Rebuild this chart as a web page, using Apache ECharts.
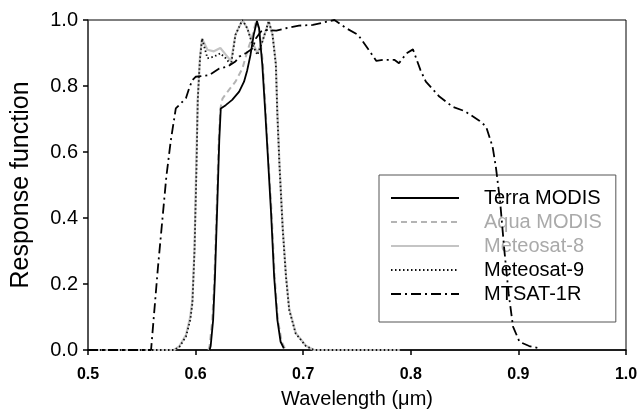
<!DOCTYPE html>
<html>
<head>
<meta charset="utf-8">
<script src="https://cdn.jsdelivr.net/npm/echarts@6/dist/echarts.min.js"></script>
<style>html,body{margin:0;padding:0;background:#fff}#c{width:641px;height:410px}</style>
</head>
<body>
<div id="c"></div>
<script>
var xTicks = [0.5, 0.6, 0.7, 0.8, 0.9, 1.0];
var yTicks = [0.0, 0.2, 0.4, 0.6, 0.8, 1.0];
var seriesNames = ['Terra MODIS', 'Aqua MODIS', 'Meteosat-8', 'Meteosat-9', 'MTSAT-1R'];

var terraWl   = [0.613, 0.614, 0.6163, 0.618, 0.6203, 0.622, 0.6234, 0.628, 0.634, 0.6405, 0.645, 0.648, 0.651, 0.654, 0.657, 0.659, 0.662, 0.6647, 0.6668, 0.670, 0.673, 0.676, 0.679, 0.682];
var terraResp = [0.0, 0.012, 0.091, 0.222, 0.455, 0.636, 0.732, 0.742, 0.758, 0.783, 0.813, 0.848, 0.894, 0.955, 0.997, 0.975, 0.864, 0.722, 0.606, 0.424, 0.222, 0.091, 0.025, 0.005];

var aquaWl   = [0.612, 0.613, 0.6155, 0.6175, 0.6198, 0.6215, 0.623, 0.625, 0.631, 0.637, 0.6435, 0.648, 0.653, 0.656, 0.659, 0.6625, 0.665, 0.667, 0.6705, 0.6735, 0.6765, 0.680, 0.683];
var aquaResp = [0.0, 0.012, 0.09, 0.222, 0.455, 0.636, 0.73, 0.762, 0.788, 0.813, 0.853, 0.904, 0.955, 0.995, 0.975, 0.87, 0.73, 0.61, 0.424, 0.222, 0.091, 0.025, 0.005];

var met8Wl   = [0.5, 0.58, 0.585, 0.591, 0.595, 0.597, 0.599, 0.6005, 0.602, 0.604, 0.606, 0.608, 0.611, 0.617, 0.623, 0.628, 0.633, 0.637, 0.6435, 0.648, 0.653, 0.6575, 0.662, 0.668, 0.6715, 0.6746, 0.676, 0.678, 0.681, 0.684, 0.687, 0.693, 0.7025, 0.71, 0.79];
var met8Resp = [0.0, 0.0, 0.012, 0.045, 0.10, 0.15, 0.31, 0.545, 0.76, 0.885, 0.944, 0.93, 0.91, 0.905, 0.915, 0.895, 0.875, 0.955, 1.0, 0.975, 0.93, 0.90, 0.935, 0.995, 0.955, 0.87, 0.72, 0.56, 0.37, 0.225, 0.125, 0.052, 0.013, 0.0, 0.0];

var met9Wl   = [0.5, 0.58, 0.585, 0.591, 0.595, 0.597, 0.599, 0.6008, 0.602, 0.604, 0.606, 0.608, 0.611, 0.617, 0.623, 0.628, 0.633, 0.637, 0.6435, 0.648, 0.653, 0.6575, 0.662, 0.668, 0.6715, 0.6746, 0.676, 0.678, 0.681, 0.684, 0.687, 0.693, 0.7025, 0.71, 0.79];
var met9Resp = [0.0, 0.0, 0.01, 0.04, 0.09, 0.14, 0.30, 0.545, 0.758, 0.879, 0.944, 0.92, 0.884, 0.889, 0.899, 0.884, 0.864, 0.955, 1.0, 0.975, 0.924, 0.894, 0.934, 0.997, 0.955, 0.864, 0.712, 0.556, 0.364, 0.222, 0.121, 0.05, 0.012, 0.0, 0.0];

var mtsatWl   = [0.5, 0.5586, 0.565, 0.5728, 0.577, 0.5816, 0.591, 0.594, 0.597, 0.600, 0.6126, 0.622, 0.630, 0.637, 0.6405, 0.647, 0.653, 0.656, 0.6607, 0.665, 0.675, 0.684, 0.696, 0.709, 0.729, 0.740, 0.751, 0.761, 0.768, 0.774, 0.785, 0.789, 0.796, 0.802, 0.809, 0.814, 0.8265, 0.839, 0.850, 0.8637, 0.870, 0.876, 0.879, 0.883, 0.887, 0.891, 0.895, 0.901, 0.910, 0.9195];
var mtsatResp = [0.0, 0.0, 0.25, 0.525, 0.636, 0.732, 0.763, 0.793, 0.818, 0.828, 0.833, 0.853, 0.859, 0.874, 0.889, 0.90, 0.914, 0.944, 0.965, 0.970, 0.968, 0.975, 0.983, 0.985, 1.0, 0.975, 0.955, 0.909, 0.876, 0.879, 0.879, 0.869, 0.899, 0.911, 0.848, 0.813, 0.768, 0.737, 0.724, 0.695, 0.677, 0.616, 0.556, 0.45, 0.30, 0.17, 0.071, 0.025, 0.012, 0.005];

function zip(a, b) { return a.map(function (v, i) { return [v, b[i]]; }); }

var FONT = 'Liberation Sans, Arial, sans-serif';
var chart = echarts.init(document.getElementById('c'), null, { renderer: 'canvas' });

function line(name, wl, resp, color, width, type, z) {
  return {
    name: name, type: 'line', data: zip(wl, resp), showSymbol: false, symbol: 'none',
    z: z, animation: false, silent: true,
    lineStyle: { color: color, width: width, type: type },
    itemStyle: { color: color }
  };
}

chart.setOption({
  backgroundColor: '#fff',
  animation: false,
  grid: { left: 88, right: 15, top: 20, bottom: 60, show: true, borderColor: '#000', borderWidth: 1,
    backgroundColor: 'transparent', containLabel: false, outerBoundsMode: 'none' },
  xAxis: {
    type: 'value', min: xTicks[0], max: xTicks[xTicks.length - 1], interval: 0.1,
    name: 'Wavelength (\u03bcm)', nameLocation: 'middle', nameGap: 39,
    nameTextStyle: { fontSize: 20, color: '#000', fontFamily: FONT },
    axisLine: { show: true, lineStyle: { color: '#000', width: 1.5 } },
    axisTick: { show: true, inside: false, length: 5, lineStyle: { color: '#000', width: 1.5 } },
    axisLabel: { fontSize: 16, fontWeight: 'bold', color: '#000', fontFamily: FONT, margin: 17,
      formatter: function (v) { return v.toFixed(1); } },
    splitLine: { show: false }
  },
  yAxis: {
    type: 'value', min: yTicks[0], max: yTicks[yTicks.length - 1], interval: 0.2,
    name: 'Response function', nameLocation: 'middle', nameGap: 54,
    nameTextStyle: { fontSize: 25, color: '#000', fontFamily: FONT },
    axisLine: { show: true, lineStyle: { color: '#444', width: 1.5 } },
    axisTick: { show: true, inside: false, length: 5, lineStyle: { color: '#000', width: 1.5 } },
    axisLabel: { fontSize: 20, color: '#000', fontFamily: FONT, margin: 10,
      formatter: function (v) { return v.toFixed(1); } },
    splitLine: { show: false }
  },
  legend: {
    orient: 'vertical', left: 379, top: 175,
    padding: [11, 14, 16, 11],
    itemWidth: 68, itemHeight: 14, itemGap: 0,
    backgroundColor: '#fff', borderColor: '#555', borderWidth: 1,
    selectedMode: false,
    itemStyle: { color: 'rgba(0,0,0,0)', borderWidth: 0, opacity: 0 },
    textStyle: { fontSize: 20, fontFamily: FONT, lineHeight: 24, padding: [0, 0, 0, 20], color: '#000' },
    data: [
      { name: seriesNames[0], textStyle: { color: '#000' } },
      { name: seriesNames[1], textStyle: { color: '#aaa' } },
      { name: seriesNames[2], textStyle: { color: '#aaa' } },
      { name: seriesNames[3], textStyle: { color: '#000' } },
      { name: seriesNames[4], textStyle: { color: '#000' } }
    ]
  },
  series: [
    line(seriesNames[2], met8Wl, met8Resp, '#c4c4c4', 2.2, 'solid', 2),
    line(seriesNames[1], aquaWl, aquaResp, '#b4b4b4', 2, [6, 4], 3),
    line(seriesNames[3], met9Wl, met9Resp, '#111', 1.8, [1.5, 2.5], 4),
    line(seriesNames[0], terraWl, terraResp, '#000', 1.8, 'solid', 5),
    line(seriesNames[4], mtsatWl, mtsatResp, '#000', 1.8, [10, 4, 2, 4], 6)
  ]
});
</script>
</body>
</html>
